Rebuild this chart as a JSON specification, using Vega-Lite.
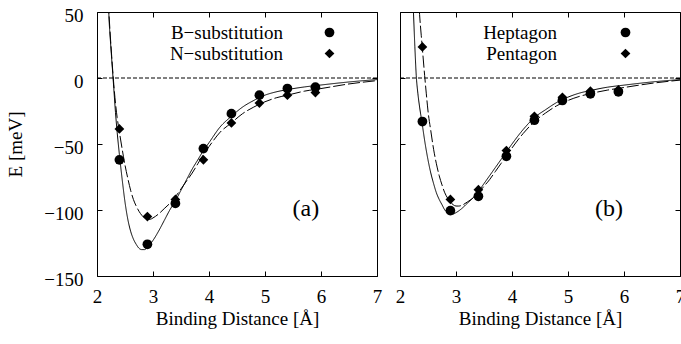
{
  "$schema": "https://vega.github.io/schema/vega-lite/v6.json",
  "background": "white",
  "padding": {"left": 6, "top": 5, "right": 3, "bottom": 5},
  "datasets": {
    "curves": [
      {"panel": "a", "series": "B−substitution", "r": 2.2, "E": 62},
      {"panel": "a", "series": "B−substitution", "r": 2.21, "E": 50},
      {"panel": "a", "series": "B−substitution", "r": 2.25, "E": 22},
      {"panel": "a", "series": "B−substitution", "r": 2.28, "E": 4},
      {"panel": "a", "series": "B−substitution", "r": 2.3, "E": -8},
      {"panel": "a", "series": "B−substitution", "r": 2.33, "E": -26},
      {"panel": "a", "series": "B−substitution", "r": 2.36, "E": -41},
      {"panel": "a", "series": "B−substitution", "r": 2.4, "E": -58},
      {"panel": "a", "series": "B−substitution", "r": 2.45, "E": -77},
      {"panel": "a", "series": "B−substitution", "r": 2.5, "E": -94},
      {"panel": "a", "series": "B−substitution", "r": 2.55, "E": -107},
      {"panel": "a", "series": "B−substitution", "r": 2.6, "E": -116},
      {"panel": "a", "series": "B−substitution", "r": 2.65, "E": -122},
      {"panel": "a", "series": "B−substitution", "r": 2.7, "E": -126},
      {"panel": "a", "series": "B−substitution", "r": 2.75, "E": -129},
      {"panel": "a", "series": "B−substitution", "r": 2.8, "E": -130},
      {"panel": "a", "series": "B−substitution", "r": 2.85, "E": -130},
      {"panel": "a", "series": "B−substitution", "r": 2.9, "E": -128},
      {"panel": "a", "series": "B−substitution", "r": 3.0, "E": -123},
      {"panel": "a", "series": "B−substitution", "r": 3.1, "E": -116},
      {"panel": "a", "series": "B−substitution", "r": 3.2, "E": -108},
      {"panel": "a", "series": "B−substitution", "r": 3.3, "E": -100},
      {"panel": "a", "series": "B−substitution", "r": 3.4, "E": -93},
      {"panel": "a", "series": "B−substitution", "r": 3.5, "E": -85},
      {"panel": "a", "series": "B−substitution", "r": 3.6, "E": -77},
      {"panel": "a", "series": "B−substitution", "r": 3.7, "E": -69},
      {"panel": "a", "series": "B−substitution", "r": 3.8, "E": -62},
      {"panel": "a", "series": "B−substitution", "r": 3.9, "E": -55},
      {"panel": "a", "series": "B−substitution", "r": 4.0, "E": -49},
      {"panel": "a", "series": "B−substitution", "r": 4.2, "E": -37},
      {"panel": "a", "series": "B−substitution", "r": 4.4, "E": -29},
      {"panel": "a", "series": "B−substitution", "r": 4.6, "E": -22},
      {"panel": "a", "series": "B−substitution", "r": 4.8, "E": -17},
      {"panel": "a", "series": "B−substitution", "r": 5.0, "E": -13},
      {"panel": "a", "series": "B−substitution", "r": 5.2, "E": -10.5},
      {"panel": "a", "series": "B−substitution", "r": 5.4, "E": -8.8},
      {"panel": "a", "series": "B−substitution", "r": 5.7, "E": -6.8},
      {"panel": "a", "series": "B−substitution", "r": 6.0, "E": -5.3},
      {"panel": "a", "series": "B−substitution", "r": 6.5, "E": -3},
      {"panel": "a", "series": "B−substitution", "r": 7.0, "E": -1.2},

      {"panel": "a", "series": "N−substitution", "r": 2.2, "E": 58},
      {"panel": "a", "series": "N−substitution", "r": 2.22, "E": 44},
      {"panel": "a", "series": "N−substitution", "r": 2.25, "E": 24},
      {"panel": "a", "series": "N−substitution", "r": 2.28, "E": 6},
      {"panel": "a", "series": "N−substitution", "r": 2.3, "E": -5},
      {"panel": "a", "series": "N−substitution", "r": 2.33, "E": -19},
      {"panel": "a", "series": "N−substitution", "r": 2.36, "E": -30},
      {"panel": "a", "series": "N−substitution", "r": 2.4, "E": -41},
      {"panel": "a", "series": "N−substitution", "r": 2.45, "E": -54},
      {"panel": "a", "series": "N−substitution", "r": 2.5, "E": -66},
      {"panel": "a", "series": "N−substitution", "r": 2.55, "E": -76},
      {"panel": "a", "series": "N−substitution", "r": 2.6, "E": -85},
      {"panel": "a", "series": "N−substitution", "r": 2.65, "E": -92},
      {"panel": "a", "series": "N−substitution", "r": 2.7, "E": -97},
      {"panel": "a", "series": "N−substitution", "r": 2.75, "E": -101},
      {"panel": "a", "series": "N−substitution", "r": 2.8, "E": -104},
      {"panel": "a", "series": "N−substitution", "r": 2.85, "E": -106},
      {"panel": "a", "series": "N−substitution", "r": 2.9, "E": -107},
      {"panel": "a", "series": "N−substitution", "r": 2.95, "E": -107},
      {"panel": "a", "series": "N−substitution", "r": 3.0, "E": -106},
      {"panel": "a", "series": "N−substitution", "r": 3.1, "E": -103},
      {"panel": "a", "series": "N−substitution", "r": 3.2, "E": -99},
      {"panel": "a", "series": "N−substitution", "r": 3.3, "E": -95},
      {"panel": "a", "series": "N−substitution", "r": 3.4, "E": -90},
      {"panel": "a", "series": "N−substitution", "r": 3.5, "E": -84},
      {"panel": "a", "series": "N−substitution", "r": 3.6, "E": -78},
      {"panel": "a", "series": "N−substitution", "r": 3.7, "E": -72},
      {"panel": "a", "series": "N−substitution", "r": 3.8, "E": -65},
      {"panel": "a", "series": "N−substitution", "r": 3.9, "E": -58},
      {"panel": "a", "series": "N−substitution", "r": 4.0, "E": -52},
      {"panel": "a", "series": "N−substitution", "r": 4.2, "E": -41},
      {"panel": "a", "series": "N−substitution", "r": 4.4, "E": -34},
      {"panel": "a", "series": "N−substitution", "r": 4.6, "E": -27},
      {"panel": "a", "series": "N−substitution", "r": 4.8, "E": -22},
      {"panel": "a", "series": "N−substitution", "r": 5.0, "E": -18},
      {"panel": "a", "series": "N−substitution", "r": 5.2, "E": -15},
      {"panel": "a", "series": "N−substitution", "r": 5.4, "E": -13},
      {"panel": "a", "series": "N−substitution", "r": 5.7, "E": -10},
      {"panel": "a", "series": "N−substitution", "r": 6.0, "E": -8},
      {"panel": "a", "series": "N−substitution", "r": 6.5, "E": -4.5},
      {"panel": "a", "series": "N−substitution", "r": 7.0, "E": -2},

      {"panel": "b", "series": "Heptagon", "r": 2.2, "E": 90},
      {"panel": "b", "series": "Heptagon", "r": 2.22, "E": 70},
      {"panel": "b", "series": "Heptagon", "r": 2.24, "E": 50},
      {"panel": "b", "series": "Heptagon", "r": 2.265, "E": 24},
      {"panel": "b", "series": "Heptagon", "r": 2.29, "E": 2},
      {"panel": "b", "series": "Heptagon", "r": 2.32, "E": -12},
      {"panel": "b", "series": "Heptagon", "r": 2.35, "E": -22},
      {"panel": "b", "series": "Heptagon", "r": 2.39, "E": -33},
      {"panel": "b", "series": "Heptagon", "r": 2.45, "E": -50},
      {"panel": "b", "series": "Heptagon", "r": 2.5, "E": -62},
      {"panel": "b", "series": "Heptagon", "r": 2.55, "E": -72},
      {"panel": "b", "series": "Heptagon", "r": 2.6, "E": -80},
      {"panel": "b", "series": "Heptagon", "r": 2.65, "E": -87},
      {"panel": "b", "series": "Heptagon", "r": 2.7, "E": -92},
      {"panel": "b", "series": "Heptagon", "r": 2.75, "E": -96},
      {"panel": "b", "series": "Heptagon", "r": 2.8, "E": -100},
      {"panel": "b", "series": "Heptagon", "r": 2.85, "E": -102},
      {"panel": "b", "series": "Heptagon", "r": 2.9, "E": -103},
      {"panel": "b", "series": "Heptagon", "r": 2.95, "E": -103},
      {"panel": "b", "series": "Heptagon", "r": 3.0, "E": -102},
      {"panel": "b", "series": "Heptagon", "r": 3.1, "E": -99},
      {"panel": "b", "series": "Heptagon", "r": 3.2, "E": -95},
      {"panel": "b", "series": "Heptagon", "r": 3.3, "E": -91},
      {"panel": "b", "series": "Heptagon", "r": 3.4, "E": -86},
      {"panel": "b", "series": "Heptagon", "r": 3.5, "E": -80},
      {"panel": "b", "series": "Heptagon", "r": 3.6, "E": -74},
      {"panel": "b", "series": "Heptagon", "r": 3.7, "E": -68},
      {"panel": "b", "series": "Heptagon", "r": 3.8, "E": -62},
      {"panel": "b", "series": "Heptagon", "r": 3.9, "E": -56},
      {"panel": "b", "series": "Heptagon", "r": 4.0, "E": -50},
      {"panel": "b", "series": "Heptagon", "r": 4.2, "E": -39},
      {"panel": "b", "series": "Heptagon", "r": 4.4, "E": -30},
      {"panel": "b", "series": "Heptagon", "r": 4.6, "E": -24},
      {"panel": "b", "series": "Heptagon", "r": 4.8, "E": -18.5},
      {"panel": "b", "series": "Heptagon", "r": 5.0, "E": -14.5},
      {"panel": "b", "series": "Heptagon", "r": 5.2, "E": -11.5},
      {"panel": "b", "series": "Heptagon", "r": 5.4, "E": -9.5},
      {"panel": "b", "series": "Heptagon", "r": 5.7, "E": -7},
      {"panel": "b", "series": "Heptagon", "r": 6.0, "E": -5.4},
      {"panel": "b", "series": "Heptagon", "r": 6.5, "E": -3},
      {"panel": "b", "series": "Heptagon", "r": 7.0, "E": -1.2},

      {"panel": "b", "series": "Pentagon", "r": 2.3, "E": 85},
      {"panel": "b", "series": "Pentagon", "r": 2.33, "E": 62},
      {"panel": "b", "series": "Pentagon", "r": 2.35, "E": 48},
      {"panel": "b", "series": "Pentagon", "r": 2.38, "E": 32},
      {"panel": "b", "series": "Pentagon", "r": 2.4, "E": 22},
      {"panel": "b", "series": "Pentagon", "r": 2.44, "E": 2},
      {"panel": "b", "series": "Pentagon", "r": 2.47, "E": -12},
      {"panel": "b", "series": "Pentagon", "r": 2.5, "E": -25},
      {"panel": "b", "series": "Pentagon", "r": 2.55, "E": -40},
      {"panel": "b", "series": "Pentagon", "r": 2.6, "E": -54},
      {"panel": "b", "series": "Pentagon", "r": 2.65, "E": -65},
      {"panel": "b", "series": "Pentagon", "r": 2.7, "E": -74},
      {"panel": "b", "series": "Pentagon", "r": 2.75, "E": -81},
      {"panel": "b", "series": "Pentagon", "r": 2.8, "E": -87},
      {"panel": "b", "series": "Pentagon", "r": 2.85, "E": -91},
      {"panel": "b", "series": "Pentagon", "r": 2.9, "E": -94},
      {"panel": "b", "series": "Pentagon", "r": 2.95, "E": -96},
      {"panel": "b", "series": "Pentagon", "r": 3.0, "E": -97},
      {"panel": "b", "series": "Pentagon", "r": 3.05, "E": -97},
      {"panel": "b", "series": "Pentagon", "r": 3.1, "E": -96.5},
      {"panel": "b", "series": "Pentagon", "r": 3.2, "E": -94},
      {"panel": "b", "series": "Pentagon", "r": 3.3, "E": -91},
      {"panel": "b", "series": "Pentagon", "r": 3.4, "E": -87},
      {"panel": "b", "series": "Pentagon", "r": 3.5, "E": -82},
      {"panel": "b", "series": "Pentagon", "r": 3.6, "E": -77},
      {"panel": "b", "series": "Pentagon", "r": 3.7, "E": -71},
      {"panel": "b", "series": "Pentagon", "r": 3.8, "E": -65},
      {"panel": "b", "series": "Pentagon", "r": 3.9, "E": -59},
      {"panel": "b", "series": "Pentagon", "r": 4.0, "E": -53},
      {"panel": "b", "series": "Pentagon", "r": 4.2, "E": -42},
      {"panel": "b", "series": "Pentagon", "r": 4.4, "E": -33},
      {"panel": "b", "series": "Pentagon", "r": 4.6, "E": -26.5},
      {"panel": "b", "series": "Pentagon", "r": 4.8, "E": -21},
      {"panel": "b", "series": "Pentagon", "r": 5.0, "E": -17},
      {"panel": "b", "series": "Pentagon", "r": 5.2, "E": -14},
      {"panel": "b", "series": "Pentagon", "r": 5.4, "E": -11.8},
      {"panel": "b", "series": "Pentagon", "r": 5.7, "E": -9.2},
      {"panel": "b", "series": "Pentagon", "r": 6.0, "E": -7.2},
      {"panel": "b", "series": "Pentagon", "r": 6.5, "E": -4},
      {"panel": "b", "series": "Pentagon", "r": 7.0, "E": -1.6}
    ],
    "points": [
      {"panel": "a", "series": "B−substitution", "r": 2.4, "E": -62},
      {"panel": "a", "series": "B−substitution", "r": 2.9, "E": -126},
      {"panel": "a", "series": "B−substitution", "r": 3.4, "E": -95},
      {"panel": "a", "series": "B−substitution", "r": 3.9, "E": -53.5},
      {"panel": "a", "series": "B−substitution", "r": 4.4, "E": -27},
      {"panel": "a", "series": "B−substitution", "r": 4.9, "E": -13},
      {"panel": "a", "series": "B−substitution", "r": 5.4, "E": -8},
      {"panel": "a", "series": "B−substitution", "r": 5.9, "E": -7},
      {"panel": "a", "series": "N−substitution", "r": 2.4, "E": -38.6},
      {"panel": "a", "series": "N−substitution", "r": 2.9, "E": -105},
      {"panel": "a", "series": "N−substitution", "r": 3.4, "E": -92},
      {"panel": "a", "series": "N−substitution", "r": 3.9, "E": -62},
      {"panel": "a", "series": "N−substitution", "r": 4.4, "E": -34},
      {"panel": "a", "series": "N−substitution", "r": 4.9, "E": -19},
      {"panel": "a", "series": "N−substitution", "r": 5.4, "E": -13},
      {"panel": "a", "series": "N−substitution", "r": 5.9, "E": -11},
      {"panel": "b", "series": "Heptagon", "r": 2.4, "E": -33},
      {"panel": "b", "series": "Heptagon", "r": 2.9, "E": -100.5},
      {"panel": "b", "series": "Heptagon", "r": 3.4, "E": -89.6},
      {"panel": "b", "series": "Heptagon", "r": 3.9, "E": -59.3},
      {"panel": "b", "series": "Heptagon", "r": 4.4, "E": -32},
      {"panel": "b", "series": "Heptagon", "r": 4.9, "E": -17},
      {"panel": "b", "series": "Heptagon", "r": 5.4, "E": -12},
      {"panel": "b", "series": "Heptagon", "r": 5.9, "E": -10.5},
      {"panel": "b", "series": "Pentagon", "r": 2.4, "E": 23.5},
      {"panel": "b", "series": "Pentagon", "r": 2.9, "E": -92},
      {"panel": "b", "series": "Pentagon", "r": 3.4, "E": -84.6},
      {"panel": "b", "series": "Pentagon", "r": 3.9, "E": -55},
      {"panel": "b", "series": "Pentagon", "r": 4.4, "E": -29},
      {"panel": "b", "series": "Pentagon", "r": 4.9, "E": -14.6},
      {"panel": "b", "series": "Pentagon", "r": 5.4, "E": -10},
      {"panel": "b", "series": "Pentagon", "r": 5.9, "E": -9}
    ],
    "zero": [{"E": 0}],
    "tags": [
      {"panel": "a", "label": "(a)", "r": 5.73, "E": -99.5},
      {"panel": "b", "label": "(b)", "r": 5.73, "E": -99.5}
    ]
  },
  "spacing": 11,
  "resolve": {"scale": {"shape": "independent"}, "legend": {"shape": "independent"}},
  "hconcat": [
    {
      "width": 280,
      "height": 264,
      "resolve": {"axis": {"x": "independent", "y": "independent"}},
      "layer": [
        {
          "data": {"name": "curves"},
          "transform": [{"filter": "datum.panel === 'a'"}],
          "mark": {"type": "line", "clip": true, "color": "black", "strokeWidth": 1, "interpolate": "monotone"},
          "encoding": {
            "x": {"field": "r", "type": "quantitative", "scale": {"domain": [2, 7], "nice": false, "zero": false},
              "axis": {"orient": "bottom", "values": [2, 3, 4, 5, 6, 7], "title": "Binding Distance [Å]", "labelPadding": 16, "titlePadding": 3}},
            "y": {"field": "E", "type": "quantitative", "scale": {"domain": [-150, 50], "nice": false, "zero": false},
              "axis": {"orient": "left", "values": [-150, -100, -50, 0, 50], "title": "E [meV]", "labelPadding": 19, "labelOffset": 3, "titlePadding": 18}},
            "strokeDash": {"field": "series", "type": "nominal", "scale": {"domain": ["B−substitution", "N−substitution"], "range": [[1, 0], [12, 3]]}, "legend": null}
          }
        },
        {
          "data": {"name": "points"},
          "transform": [{"filter": "datum.panel === 'a'"}],
          "mark": {"type": "point", "filled": true, "color": "black", "opacity": 1, "size": 95},
          "encoding": {
            "x": {"field": "r", "type": "quantitative", "scale": {"domain": [2, 7], "nice": false, "zero": false},
              "axis": {"orient": "top", "values": [2, 3, 4, 5, 6, 7], "labels": false, "title": null}},
            "y": {"field": "E", "type": "quantitative", "scale": {"domain": [-150, 50], "nice": false, "zero": false},
              "axis": {"orient": "right", "values": [-150, -100, -50, 0, 50], "labels": false, "title": null}},
            "shape": {"field": "series", "type": "nominal", "scale": {"domain": ["B−substitution", "N−substitution"], "range": ["circle", "diamond"]},
              "legend": {"orient": "none", "legendX": 223, "legendY": 11, "title": null, "labelOffset": -56}}
          }
        },
        {
          "data": {"name": "zero"},
          "mark": {"type": "rule", "color": "black", "strokeWidth": 1, "strokeDash": [4, 2]},
          "encoding": {"y": {"field": "E", "type": "quantitative", "axis": null}}
        },
        {
          "data": {"name": "tags"},
          "transform": [{"filter": "datum.panel === 'a'"}],
          "mark": {"type": "text", "fontSize": 24, "align": "center", "baseline": "middle", "color": "black"},
          "encoding": {
            "x": {"field": "r", "type": "quantitative", "axis": null},
            "y": {"field": "E", "type": "quantitative", "axis": null},
            "text": {"field": "label", "type": "nominal"}
          }
        }
      ]
    },
    {
      "width": 280,
      "height": 264,
      "resolve": {"axis": {"x": "independent", "y": "independent"}},
      "layer": [
        {
          "data": {"name": "curves"},
          "transform": [{"filter": "datum.panel === 'b'"}],
          "mark": {"type": "line", "clip": true, "color": "black", "strokeWidth": 1, "interpolate": "monotone"},
          "encoding": {
            "x": {"field": "r", "type": "quantitative", "scale": {"domain": [2, 7], "nice": false, "zero": false},
              "axis": {"orient": "bottom", "values": [2, 3, 4, 5, 6, 7], "title": "Binding Distance [Å]", "labelPadding": 16, "titlePadding": 3}},
            "y": {"field": "E", "type": "quantitative", "scale": {"domain": [-150, 50], "nice": false, "zero": false},
              "axis": {"orient": "left", "values": [-150, -100, -50, 0, 50], "labels": false, "title": null}},
            "strokeDash": {"field": "series", "type": "nominal", "scale": {"domain": ["Heptagon", "Pentagon"], "range": [[1, 0], [12, 3]]}, "legend": null}
          }
        },
        {
          "data": {"name": "points"},
          "transform": [{"filter": "datum.panel === 'b'"}],
          "mark": {"type": "point", "filled": true, "color": "black", "opacity": 1, "size": 95},
          "encoding": {
            "x": {"field": "r", "type": "quantitative", "scale": {"domain": [2, 7], "nice": false, "zero": false},
              "axis": {"orient": "top", "values": [2, 3, 4, 5, 6, 7], "labels": false, "title": null}},
            "y": {"field": "E", "type": "quantitative", "scale": {"domain": [-150, 50], "nice": false, "zero": false},
              "axis": {"orient": "right", "values": [-150, -100, -50, 0, 50], "labels": false, "title": null}},
            "shape": {"field": "series", "type": "nominal", "scale": {"domain": ["Heptagon", "Pentagon"], "range": ["circle", "diamond"]},
              "legend": {"orient": "none", "legendX": 216, "legendY": 11, "title": null, "labelOffset": -78}}
          }
        },
        {
          "data": {"name": "zero"},
          "mark": {"type": "rule", "color": "black", "strokeWidth": 1, "strokeDash": [4, 2]},
          "encoding": {"y": {"field": "E", "type": "quantitative", "axis": null}}
        },
        {
          "data": {"name": "tags"},
          "transform": [{"filter": "datum.panel === 'b'"}],
          "mark": {"type": "text", "fontSize": 24, "align": "center", "baseline": "middle", "color": "black"},
          "encoding": {
            "x": {"field": "r", "type": "quantitative", "axis": null},
            "y": {"field": "E", "type": "quantitative", "axis": null},
            "text": {"field": "label", "type": "nominal"}
          }
        }
      ]
    }
  ],
  "config": {
    "font": "Liberation Serif, DejaVu Serif, serif",
    "text": {"font": "Liberation Serif, DejaVu Serif, serif"},
    "view": {"stroke": "black", "strokeWidth": 1},
    "axis": {
      "domain": false, "grid": false, "tickColor": "black", "tickSize": -5, "tickWidth": 1,
      "labelFont": "Liberation Serif, DejaVu Serif, serif", "labelFontSize": 19, "labelColor": "black",
      "titleFont": "Liberation Serif, DejaVu Serif, serif", "titleFontSize": 19, "titleFontWeight": "normal", "titleColor": "black",
      "labelOverlap": false, "labelBound": false, "labelFlush": false
    },
    "legend": {
      "labelFont": "Liberation Serif, DejaVu Serif, serif", "labelFontSize": 19, "labelColor": "black",
      "labelAlign": "right", "rowPadding": 1,
      "symbolFillColor": "black", "symbolStrokeWidth": 0, "symbolSize": 95, "symbolType": "circle"
    }
  }
}
